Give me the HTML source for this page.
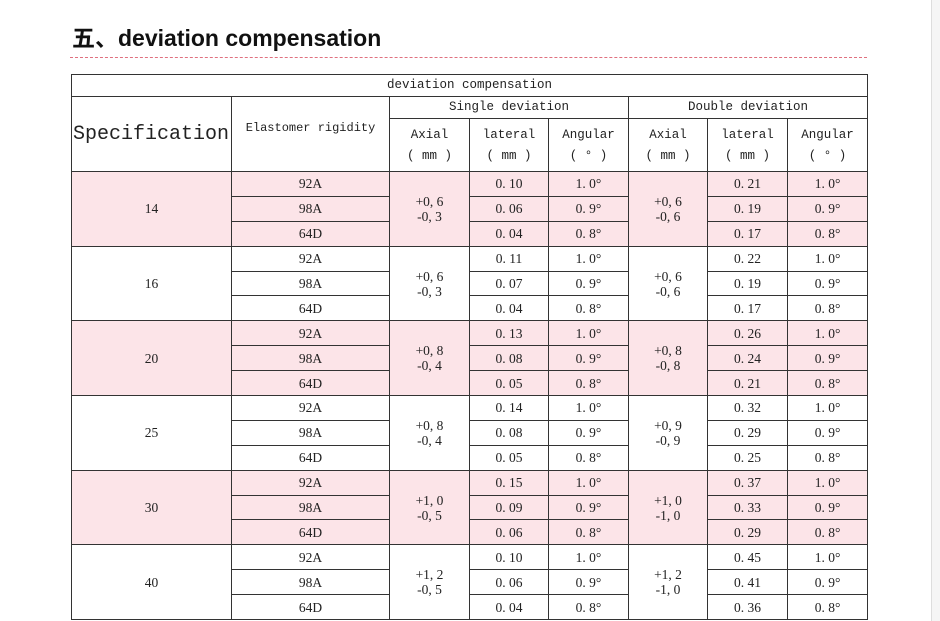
<!DOCTYPE html>
<html><head><meta charset="utf-8"><style>
body{margin:0;width:940px;height:621px;background:#fff;position:relative;overflow:hidden;font-family:"Liberation Serif","Noto Serif CJK SC",serif;}
.t{position:absolute;left:72px;top:19px;font:bold 23px "Liberation Sans","Noto Sans CJK SC",sans-serif;color:#111;}
.dash{position:absolute;left:70px;top:57px;width:797px;height:0;border-top:1px dashed #e0707f;}
.bar{position:absolute;left:931px;top:0;width:9px;height:621px;background:#f5f5f5;border-left:1px solid #ddd;}
table{position:absolute;left:71px;top:74px;border-collapse:collapse;table-layout:fixed;width:796px;border:1.5px solid #333;}
td{border:1px solid #333;text-align:center;padding:0;font-size:13.5px;color:#222;line-height:15px;overflow:hidden;white-space:nowrap;}
.h{font-family:"Liberation Mono","Noto Sans CJK SC",monospace;font-size:12.5px;}
.hh{line-height:21px;padding-top:2px;}
tr.d td{height:23.9px;}
.p td{background:#fce4e8;}
</style></head><body>
<div class="t">五、deviation compensation</div>
<div class="dash"></div>
<div class="bar"></div>
<table>
<colgroup><col style="width:160px"><col style="width:158px"><col style="width:80px"><col style="width:79px"><col style="width:80px"><col style="width:79px"><col style="width:80px"><col style="width:80px"></colgroup>
<tr><td colspan="8" class="h" style="height:21px">deviation compensation</td></tr>
<tr><td rowspan="2" class="h" style="font-size:20px;text-align:left;padding-left:1px">Specification</td><td rowspan="2" class="h" style="font-size:12px;vertical-align:top;padding-top:24px">Elastomer rigidity</td><td colspan="3" class="h" style="height:21px">Single deviation</td><td colspan="3" class="h">Double deviation</td></tr>
<tr><td class="h hh" style="height:50px">Axial<br>( mm )</td><td class="h hh">lateral<br>( mm )</td><td class="h hh">Angular<br>( ° )</td><td class="h hh">Axial<br>( mm )</td><td class="h hh">lateral<br>( mm )</td><td class="h hh">Angular<br>( ° )</td></tr>

<tr class="d p"><td rowspan="3">14</td><td>92A</td><td rowspan="3">+0, 6<br>-0, 3</td><td>0. 10</td><td>1. 0°</td><td rowspan="3">+0, 6<br>-0, 6</td><td>0. 21</td><td>1. 0°</td></tr>
<tr class="d p"><td>98A</td><td>0. 06</td><td>0. 9°</td><td>0. 19</td><td>0. 9°</td></tr>
<tr class="d p"><td>64D</td><td>0. 04</td><td>0. 8°</td><td>0. 17</td><td>0. 8°</td></tr>

<tr class="d"><td rowspan="3">16</td><td>92A</td><td rowspan="3">+0, 6<br>-0, 3</td><td>0. 11</td><td>1. 0°</td><td rowspan="3">+0, 6<br>-0, 6</td><td>0. 22</td><td>1. 0°</td></tr>
<tr class="d"><td>98A</td><td>0. 07</td><td>0. 9°</td><td>0. 19</td><td>0. 9°</td></tr>
<tr class="d"><td>64D</td><td>0. 04</td><td>0. 8°</td><td>0. 17</td><td>0. 8°</td></tr>

<tr class="d p"><td rowspan="3">20</td><td>92A</td><td rowspan="3">+0, 8<br>-0, 4</td><td>0. 13</td><td>1. 0°</td><td rowspan="3">+0, 8<br>-0, 8</td><td>0. 26</td><td>1. 0°</td></tr>
<tr class="d p"><td>98A</td><td>0. 08</td><td>0. 9°</td><td>0. 24</td><td>0. 9°</td></tr>
<tr class="d p"><td>64D</td><td>0. 05</td><td>0. 8°</td><td>0. 21</td><td>0. 8°</td></tr>

<tr class="d"><td rowspan="3">25</td><td>92A</td><td rowspan="3">+0, 8<br>-0, 4</td><td>0. 14</td><td>1. 0°</td><td rowspan="3">+0, 9<br>-0, 9</td><td>0. 32</td><td>1. 0°</td></tr>
<tr class="d"><td>98A</td><td>0. 08</td><td>0. 9°</td><td>0. 29</td><td>0. 9°</td></tr>
<tr class="d"><td>64D</td><td>0. 05</td><td>0. 8°</td><td>0. 25</td><td>0. 8°</td></tr>

<tr class="d p"><td rowspan="3">30</td><td>92A</td><td rowspan="3">+1, 0<br>-0, 5</td><td>0. 15</td><td>1. 0°</td><td rowspan="3">+1, 0<br>-1, 0</td><td>0. 37</td><td>1. 0°</td></tr>
<tr class="d p"><td>98A</td><td>0. 09</td><td>0. 9°</td><td>0. 33</td><td>0. 9°</td></tr>
<tr class="d p"><td>64D</td><td>0. 06</td><td>0. 8°</td><td>0. 29</td><td>0. 8°</td></tr>

<tr class="d"><td rowspan="3">40</td><td>92A</td><td rowspan="3">+1, 2<br>-0, 5</td><td>0. 10</td><td>1. 0°</td><td rowspan="3">+1, 2<br>-1, 0</td><td>0. 45</td><td>1. 0°</td></tr>
<tr class="d"><td>98A</td><td>0. 06</td><td>0. 9°</td><td>0. 41</td><td>0. 9°</td></tr>
<tr class="d"><td>64D</td><td>0. 04</td><td>0. 8°</td><td>0. 36</td><td>0. 8°</td></tr>
</table>
</body></html>
